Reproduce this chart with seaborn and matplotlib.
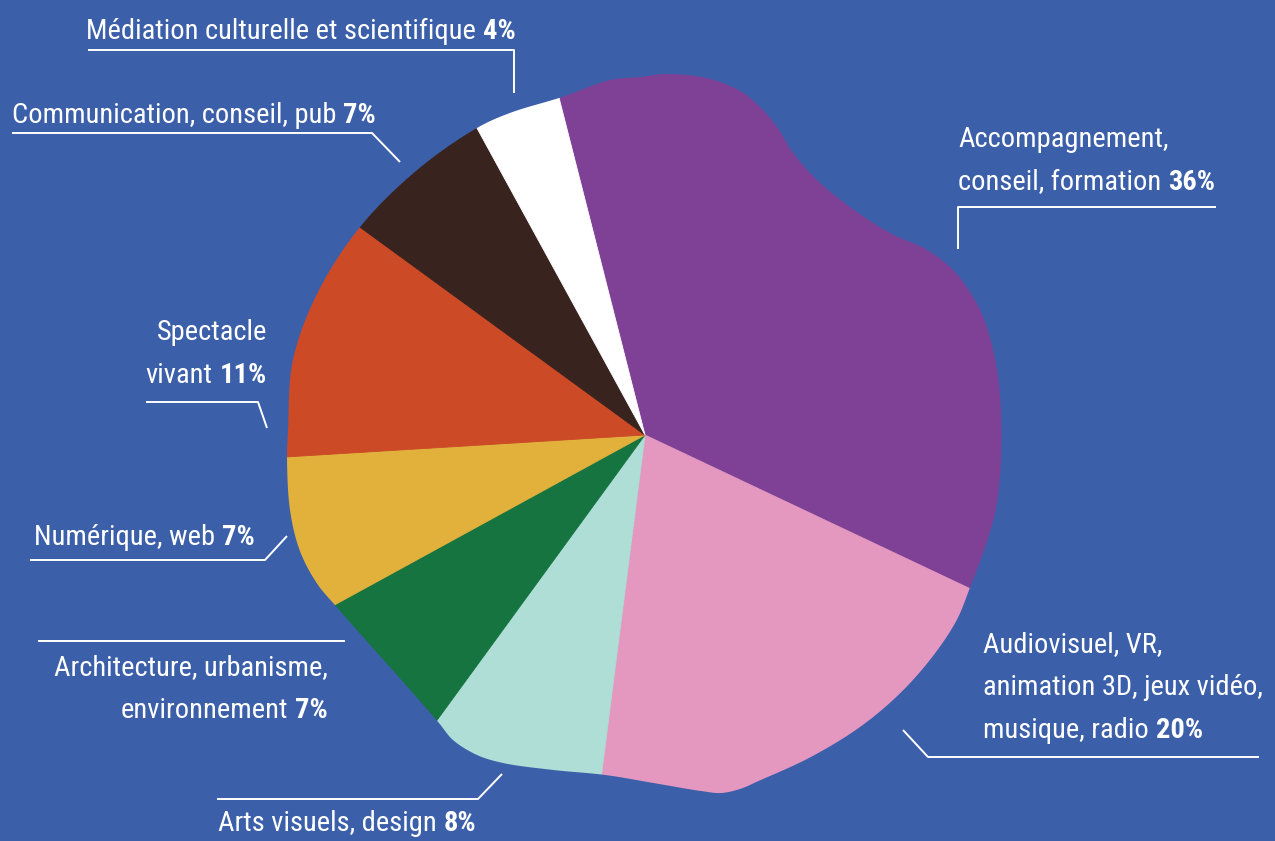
import numpy as np
import seaborn as sns
import matplotlib.pyplot as plt
from matplotlib import font_manager
from matplotlib.path import Path
from matplotlib.patches import PathPatch

# ==========================================
# Data
# ==========================================
categories = [
    "Accompagnement,\nconseil, formation",
    "Audiovisuel, VR,\nanimation 3D, jeux vidéo,\nmusique, radio",
    "Arts visuels, design",
    "Architecture, urbanisme,\nenvironnement",
    "Numérique, web",
    "Spectacle\nvivant",
    "Communication, conseil, pub",
    "Médiation culturelle et scientifique",
]
shares = [36, 20, 8, 7, 7, 11, 7, 4]
colors = ["#7F4196", "#E498C0", "#AFDED7", "#167440",
          "#E1B13B", "#CD4A27", "#38231E", "#FFFFFF"]

# ==========================================
# Style / layout (pixel units, y measured from top)
# ==========================================
BG = "#3C5FAA"
W, H = 1275, 841
CX, CY, R = 645, 435, 357

# label anchor: x, first baseline, alignment, leader line
label_layout = [
    (958, 147, "left", [(1216, 207), (958, 207), (958, 249)]),
    (983, 652, "left", [(903, 730), (928, 757), (1259, 757)]),
    (218, 831, "left", [(217, 799), (478, 799), (502, 774)]),
    (328, 675, "right", [(38, 641), (345, 641)]),
    (255, 545, "right", [(30, 560), (265, 560), (287, 536)]),
    (267, 340, "right", [(146, 402), (258, 402), (267, 428)]),
    (12, 123, "left", [(12, 133), (372, 133), (400, 162)]),
    (86, 39, "left", [(88, 50), (514, 50), (514, 93)]),
]
LINE_STEP = 43

# irregular outline of the "pie": angle (deg) -> radius (px)
outline = [
    (103.8, 348), (95.6, 356.7), (90.8, 358), (86.5, 361.7), (79.7, 362),
    (74.3, 356.5), (70.7, 347.6), (66.8, 335.1), (62.3, 318.5), (56.0, 307.6),
    (48.0, 306.6), (39.5, 317.5), (33.3, 337.3), (28.2, 349.4), (22.8, 355.8),
    (18.4, 358.3), (10.5, 358), (-0.3, 356.5), (-11.6, 358.5), (-19.2, 358),
    (-25.1, 359), (-30.7, 362.5), (-37.6, 363), (-45.3, 363), (-53.6, 362.6),
    (-62.9, 362.2), (-71.6, 364), (-75.0, 366.5), (-78.0, 366), (-81.0, 360.5),
    (-88.7, 348), (-96.7, 342.3), (-105.4, 347.4), (-113.4, 357.4),
    (-117.7, 361.4), (-122.2, 360.4), (-125.6, 354.1), (-134.1, 345.8),
    (-142.4, 345.8), (-150.8, 353), (-155.6, 360), (-161.3, 364),
    (-167.7, 363), (-175.6, 359), (-180.8, 357), (-192, 360), (-203.4, 357),
    (-216.1, 352.8), (-229.3, 349.5), (-241.3, 350), (-247.3, 349.2),
]

sns.set_theme(style="white")

# pick a condensed font if one is installed
names = {f.name for f in font_manager.fontManager.ttflist}
family, stretch = "DejaVu Sans", "condensed"
for cand in ["Roboto Condensed", "Liberation Sans Narrow", "Open Sans Condensed",
             "Noto Sans Condensed", "DejaVu Sans Condensed"]:
    if cand in names:
        family, stretch = cand, "normal"
        break
plt.rcParams["font.family"] = [family, "DejaVu Sans"]
FS = 20.5


def Y(py):
    return H - py


fig = plt.figure(figsize=(W / 100, H / 100), dpi=100, facecolor=BG)
ax = fig.add_axes([0, 0, 1, 1])
ax.set_facecolor(BG)

wedges, _ = ax.pie(shares, colors=colors, startangle=104.3, counterclock=False,
                   center=(CX, Y(CY)), radius=R * 1.1,
                   wedgeprops=dict(linewidth=0.6))
for w, c in zip(wedges, colors):
    w.set_edgecolor(c)

# blob outline (closed centripetal Catmull-Rom curve through the outline points),
# everything outside it is masked with the background colour
ang = np.radians([a for a, _ in outline])
rad = np.array([r for _, r in outline])
P = np.column_stack([CX + rad * np.cos(ang), Y(CY) + rad * np.sin(ang)])
n = len(P)
pts = []
for i in range(n):
    p0, p1, p2, p3 = P[i - 1], P[i], P[(i + 1) % n], P[(i + 2) % n]
    t0 = 0.0
    t1 = t0 + np.linalg.norm(p1 - p0) ** 0.5
    t2 = t1 + np.linalg.norm(p2 - p1) ** 0.5
    t3 = t2 + np.linalg.norm(p3 - p2) ** 0.5
    t = np.linspace(t1, t2, 16, endpoint=False)[:, None]
    a1 = (t1 - t) / (t1 - t0) * p0 + (t - t0) / (t1 - t0) * p1
    a2 = (t2 - t) / (t2 - t1) * p1 + (t - t1) / (t2 - t1) * p2
    a3 = (t3 - t) / (t3 - t2) * p2 + (t - t2) / (t3 - t2) * p3
    b1 = (t2 - t) / (t2 - t0) * a1 + (t - t0) / (t2 - t0) * a2
    b2 = (t3 - t) / (t3 - t1) * a2 + (t - t1) / (t3 - t1) * a3
    pts.append((t2 - t) / (t2 - t1) * b1 + (t - t1) / (t2 - t1) * b2)
blob = np.vstack(pts + [pts[0][:1]])
frame = np.array([[-10, -10], [W + 10, -10], [W + 10, H + 10], [-10, H + 10], [-10, -10]])
verts = np.vstack([frame, blob])
codes = ([Path.MOVETO] + [Path.LINETO] * 3 + [Path.CLOSEPOLY]
         + [Path.MOVETO] + [Path.LINETO] * (len(blob) - 2) + [Path.CLOSEPOLY])
ax.add_patch(PathPatch(Path(verts, codes), facecolor=BG, edgecolor="none",
                       zorder=5, clip_on=False))

ax.set_xlim(0, W)
ax.set_ylim(0, H)
ax.set_aspect("equal")
ax.axis("off")

# ==========================================
# Labels
# ==========================================
renderer = fig.canvas.get_renderer()
inv = ax.transData.inverted()
txt = dict(color="white", fontsize=FS, va="baseline", fontstretch=stretch, zorder=10)
GAP = 7


def width(t):
    bb = t.get_window_extent(renderer)
    (x0, _), (x1, _) = inv.transform([[bb.x0, 0], [bb.x1, 0]])
    return x1 - x0


for name, val, (x, y0, ha, leader) in zip(categories, shares, label_layout):
    lines = name.split("\n")
    pct = f"{val}%"
    for i, line in enumerate(lines):
        y = Y(y0 + i * LINE_STEP)
        if i < len(lines) - 1:
            ax.text(x, y, line, ha=ha, **txt)
        elif ha == "left":
            t = ax.text(x, y, line, ha="left", **txt)
            ax.text(x + width(t) + GAP, y, pct, ha="left", fontweight="heavy", **txt)
        else:
            b = ax.text(x, y, pct, ha="right", fontweight="heavy", **txt)
            ax.text(x - width(b) - GAP, y, line, ha="right", **txt)
    lx, ly = zip(*leader)
    ax.plot(lx, [Y(v) for v in ly], color="white", lw=1.4,
            solid_capstyle="butt", zorder=10)

fig.savefig("out.png", dpi=100, facecolor=BG)
